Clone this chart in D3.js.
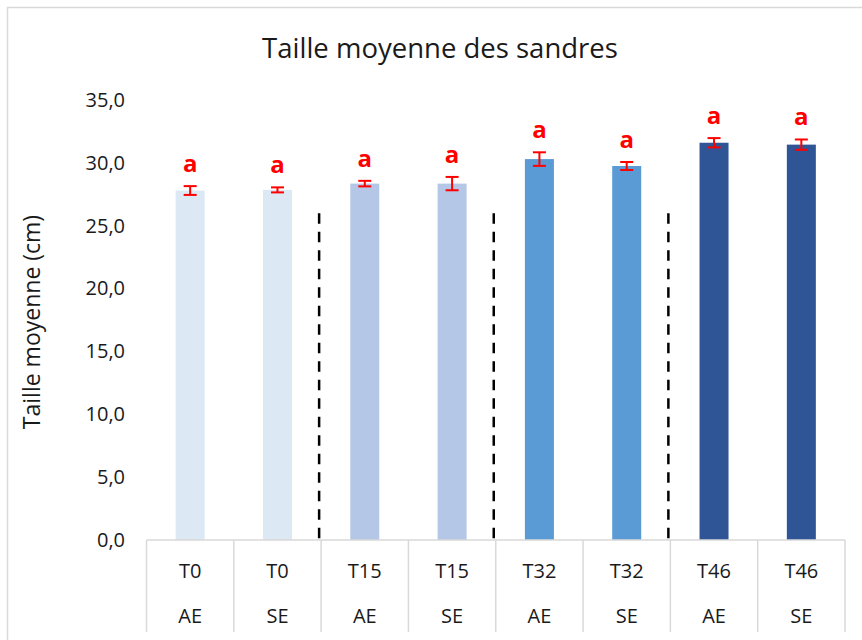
<!DOCTYPE html>
<html>
<head>
<meta charset="utf-8">
<script src="https://cdn.jsdelivr.net/npm/d3@7"></script>
<style>
  html, body { margin: 0; padding: 0; background: #ffffff; }
  svg { display: block; }
  text { font-family: "Open Sans", "Noto Sans", sans-serif; }
</style>
</head>
<body>
<svg id="chart" width="862" height="640"></svg>
<script>
// ---- data ----
const times = ["T0", "T0", "T15", "T15", "T32", "T32", "T46", "T46"];
const groups = ["AE", "SE", "AE", "SE", "AE", "SE", "AE", "SE"];
const means = [27.8, 27.85, 28.35, 28.35, 30.3, 29.75, 31.6, 31.45];
const errors = [0.35, 0.2, 0.22, 0.53, 0.54, 0.32, 0.37, 0.41];
const letters = ["a", "a", "a", "a", "a", "a", "a", "a"];
const yTicks = [0, 5, 10, 15, 20, 25, 30, 35];
const separatorAfter = [1, 3, 5];   // dashed separators after these bar indices
const separatorHeight = 26;
const colors = { T0: "#dde8f5", T15: "#b4c7e7", T32: "#5b9bd5", T46: "#2f5597" };
const title = "Taille moyenne des sandres";
const yTitle = "Taille moyenne (cm)";

// ---- layout ----
const svg = d3.select("#chart");
const plotLeft = 146.5, plotRight = 845, plotTop = 100, plotBottom = 540, tableBottom = 632;

const x = d3.scaleBand().domain(d3.range(times.length)).range([plotLeft, plotRight]).padding(0);
const y = d3.scaleLinear().domain([0, 35]).range([plotBottom, plotTop]);
const barW = 29;

// outer border
svg.append("rect")
  .attr("x", 7.5).attr("y", 7.5).attr("width", 870).attr("height", 650)
  .attr("fill", "none").attr("stroke", "#d9d9d9").attr("stroke-width", 1.5);

// title
svg.append("text")
  .attr("x", 440).attr("y", 58)
  .attr("text-anchor", "middle")
  .attr("font-size", 27.5).attr("fill", "#1a1a1a")
  .text(title);

// y axis title
svg.append("text")
  .attr("transform", "translate(40,322) rotate(-90)")
  .attr("text-anchor", "middle")
  .attr("font-size", 23).attr("fill", "#1a1a1a")
  .text(yTitle);

// y axis tick labels
const yAxis = d3.axisLeft(y).tickValues(yTicks).tickSize(0).tickPadding(0)
  .tickFormat(d => d3.format(".1f")(d).replace(".", ","));
const yg = svg.append("g").attr("transform", "translate(125,0)").call(yAxis);
yg.select(".domain").remove();
yg.selectAll("text").attr("font-size", 20).attr("fill", "#1a1a1a")
  .attr("font-family", "'Open Sans', sans-serif");

// bars
svg.append("g").selectAll("rect")
  .data(means)
  .join("rect")
  .attr("x", (d, i) => x(i) + x.bandwidth() / 2 - barW / 2)
  .attr("y", d => y(d))
  .attr("width", barW)
  .attr("height", d => y(0) - y(d))
  .attr("fill", (d, i) => colors[times[i]]);

// dashed separators
svg.append("g").selectAll("line")
  .data(separatorAfter)
  .join("line")
  .attr("x1", d => x(d) + x.bandwidth() - 2)
  .attr("x2", d => x(d) + x.bandwidth() - 2)
  .attr("y1", y(separatorHeight))
  .attr("y2", y(0))
  .attr("stroke", "#000").attr("stroke-width", 2.5)
  .attr("stroke-dasharray", "10.5,8");

// error bars
const eg = svg.append("g").attr("stroke", "#ff0000").attr("stroke-width", 2);
means.forEach((m, i) => {
  const cx = x(i) + x.bandwidth() / 2;
  const lo = y(m - errors[i]), hi = y(m + errors[i]);
  eg.append("line").attr("x1", cx).attr("x2", cx).attr("y1", lo).attr("y2", hi);
  eg.append("line").attr("x1", cx - 6.5).attr("x2", cx + 6.5).attr("y1", lo).attr("y2", lo);
  eg.append("line").attr("x1", cx - 6.5).attr("x2", cx + 6.5).attr("y1", hi).attr("y2", hi);
});

// significance letters
svg.append("g").selectAll("text")
  .data(letters)
  .join("text")
  .attr("x", (d, i) => x(i) + x.bandwidth() / 2)
  .attr("y", (d, i) => y(means[i] + errors[i]) - 14)
  .attr("text-anchor", "middle")
  .attr("font-size", 24).attr("font-weight", "bold").attr("fill", "#ff0000")
  .text(d => d);

// category table
const tg = svg.append("g");
tg.append("line")
  .attr("x1", plotLeft).attr("x2", plotRight)
  .attr("y1", plotBottom).attr("y2", plotBottom)
  .attr("stroke", "#d9d9d9").attr("stroke-width", 1.5);
const bounds = d3.range(times.length + 1).map(i => i < times.length ? x(i) : plotRight);
tg.selectAll("line.v")
  .data(bounds)
  .join("line")
  .attr("class", "v")
  .attr("x1", d => d).attr("x2", d => d)
  .attr("y1", plotBottom).attr("y2", tableBottom)
  .attr("stroke", "#d9d9d9").attr("stroke-width", 1.5);
tg.selectAll("text.t")
  .data(times)
  .join("text")
  .attr("class", "t")
  .attr("x", (d, i) => x(i) + x.bandwidth() / 2)
  .attr("y", 578)
  .attr("text-anchor", "middle")
  .attr("font-size", 20).attr("fill", "#1a1a1a")
  .text(d => d);
tg.selectAll("text.g")
  .data(groups)
  .join("text")
  .attr("class", "g")
  .attr("x", (d, i) => x(i) + x.bandwidth() / 2)
  .attr("y", 623)
  .attr("text-anchor", "middle")
  .attr("font-size", 20).attr("fill", "#1a1a1a")
  .text(d => d);
</script>
</body>
</html>
